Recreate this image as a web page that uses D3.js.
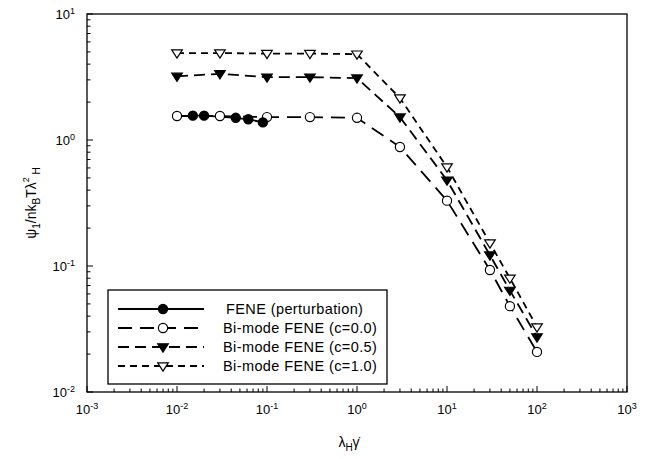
<!DOCTYPE html>
<html><head><meta charset="utf-8">
<script src="https://cdn.jsdelivr.net/npm/d3@7/dist/d3.min.js"></script>
<style>body{margin:0;background:#fff}svg{display:block;font-family:"Liberation Sans",Arial,sans-serif}</style>
</head><body><svg id="c" width="653" height="459"></svg>
<script>
// Data
const xPert = [0.015, 0.02, 0.045, 0.062, 0.09];
const yPert = [1.56, 1.56, 1.50, 1.46, 1.38];
const xBi = [0.01, 0.03, 0.1, 0.3, 1, 3, 10, 30, 50, 100];
const yC00 = [1.55, 1.55, 1.52, 1.52, 1.50, 0.88, 0.33, 0.093, 0.048, 0.0208];
const yC05 = [3.2, 3.35, 3.15, 3.15, 3.1, 1.52, 0.48, 0.122, 0.064, 0.0273];
const yC10 = [4.9, 4.9, 4.85, 4.85, 4.8, 2.15, 0.61, 0.152, 0.080, 0.0328];
const xTickExps = [-3, -2, -1, 0, 1, 2, 3];
const yTickExps = [-2, -1, 0, 1];
const legendLabels = ["FENE (perturbation)", "Bi-mode FENE (c=0.0)", "Bi-mode FENE (c=0.5)", "Bi-mode FENE (c=1.0)"];

const svg = d3.select("#c");
const L = 87, R = 627, T = 14, B = 392;
const x = d3.scaleLog().domain([1e-3, 1e3]).range([L, R]);
const y = d3.scaleLog().domain([1e-2, 1e1]).range([B, T]);

// frame
svg.append("rect").attr("x", L).attr("y", T).attr("width", R - L).attr("height", B - T)
  .attr("fill", "none").attr("stroke", "#000").attr("stroke-width", 1.3);

// ticks (inward)
const g = svg.append("g").attr("stroke", "#000").attr("stroke-width", 1);
function minorVals(exps) {
  const out = [];
  for (let i = 0; i < exps.length - 1; i++) for (let k = 2; k <= 9; k++) out.push(k * Math.pow(10, exps[i]));
  return out;
}
xTickExps.forEach(e => { const px = x(Math.pow(10, e)); g.append("line").attr("x1", px).attr("x2", px).attr("y1", B).attr("y2", B - 6); });
minorVals(xTickExps).forEach(v => { const px = x(v); g.append("line").attr("x1", px).attr("x2", px).attr("y1", B).attr("y2", B - 3.5); });
yTickExps.forEach(e => { const py = y(Math.pow(10, e)); g.append("line").attr("x1", L).attr("x2", L + 6).attr("y1", py).attr("y2", py); });
minorVals(yTickExps).forEach(v => { const py = y(v); g.append("line").attr("x1", L).attr("x2", L + 3.5).attr("y1", py).attr("y2", py); });

// tick labels
xTickExps.forEach(e => {
  const t = svg.append("text").attr("x", x(Math.pow(10, e))).attr("y", 414).attr("text-anchor", "middle")
    .attr("font-size", 13);
  t.append("tspan").text("10");
  t.append("tspan").attr("font-size", 9).attr("dy", -5).text(e);
});
yTickExps.forEach(e => {
  const t = svg.append("text").attr("x", 75).attr("y", y(Math.pow(10, e)) + 4.5).attr("text-anchor", "end")
    .attr("font-size", 13);
  t.append("tspan").text("10");
  t.append("tspan").attr("font-size", 9).attr("dy", -5).text(e);
});

// axis titles
const xl = svg.append("text").attr("x", 349).attr("y", 447).attr("text-anchor", "middle").attr("font-size", 14);
xl.append("tspan").text("λ");
xl.append("tspan").attr("font-size", 10).attr("dy", 4).text("H");
xl.append("tspan").attr("dy", -4).text("γ\u0307");

const yl = svg.append("text").attr("transform", "translate(36,203) rotate(-90)").attr("text-anchor", "middle").attr("font-size", 14);
yl.append("tspan").text("ψ");
yl.append("tspan").attr("font-size", 10).attr("dy", 4).text("1");
yl.append("tspan").attr("dy", -4).text("/nk");
yl.append("tspan").attr("font-size", 10).attr("dy", 4).text("B");
yl.append("tspan").attr("dy", -4).text("Tλ");
yl.append("tspan").attr("font-size", 9).attr("dy", -7).text("2");
yl.append("tspan").attr("font-size", 10).attr("dy", 11).text(" H");

// series
const series = [
  { xs: xPert, ys: yPert, dash: null, marker: "fcircle" },
  { xs: xBi, ys: yC00, dash: "14,8", marker: "ocircle" },
  { xs: xBi, ys: yC05, dash: "11,6", marker: "ftri" },
  { xs: xBi, ys: yC10, dash: "7,5", marker: "otri" }
];
const line = d3.line().x(d => x(d[0])).y(d => y(d[1]));
function drawMarker(sel, type, cx, cy) {
  if (type === "fcircle" || type === "ocircle") {
    sel.append("circle").attr("cx", cx).attr("cy", cy).attr("r", 4.6)
      .attr("fill", type === "fcircle" ? "#000" : "#fff").attr("stroke", "#000").attr("stroke-width", 1.2);
  } else {
    const s = 5.3;
    sel.append("path").attr("d", `M${cx - s},${cy - s * 0.6}L${cx + s},${cy - s * 0.6}L${cx},${cy + s * 0.95}Z`)
      .attr("fill", type === "ftri" ? "#000" : "#fff").attr("stroke", "#000").attr("stroke-width", 1.2);
  }
}
series.slice().reverse().forEach(s => {
  const pts = s.xs.map((v, i) => [v, s.ys[i]]);
  svg.append("path").attr("d", line(pts)).attr("fill", "none").attr("stroke", "#000").attr("stroke-width", 1.8)
    .attr("stroke-dasharray", s.dash);
});
[series[1], series[2], series[3], series[0]].forEach(s => {
  const gm = svg.append("g");
  s.xs.forEach((v, i) => drawMarker(gm, s.marker, x(v), y(s.ys[i])));
});

// legend
svg.append("rect").attr("x", 108).attr("y", 290).attr("width", 279).attr("height", 94)
  .attr("fill", "#fff").attr("stroke", "#000").attr("stroke-width", 1.3);
const rowY = [309, 328, 347, 366];
series.forEach((s, i) => {
  svg.append("line").attr("x1", 118).attr("x2", 204).attr("y1", rowY[i]).attr("y2", rowY[i])
    .attr("stroke", "#000").attr("stroke-width", 1.8).attr("stroke-dasharray", s.dash);
  drawMarker(svg, s.marker, 163, rowY[i]);
  svg.append("text").attr("x", i === 0 ? 226 : 223).attr("y", rowY[i] + 5).attr("font-size", 14.5)
    .attr("letter-spacing", 0.4).text(legendLabels[i]);
});
</script></body></html>
